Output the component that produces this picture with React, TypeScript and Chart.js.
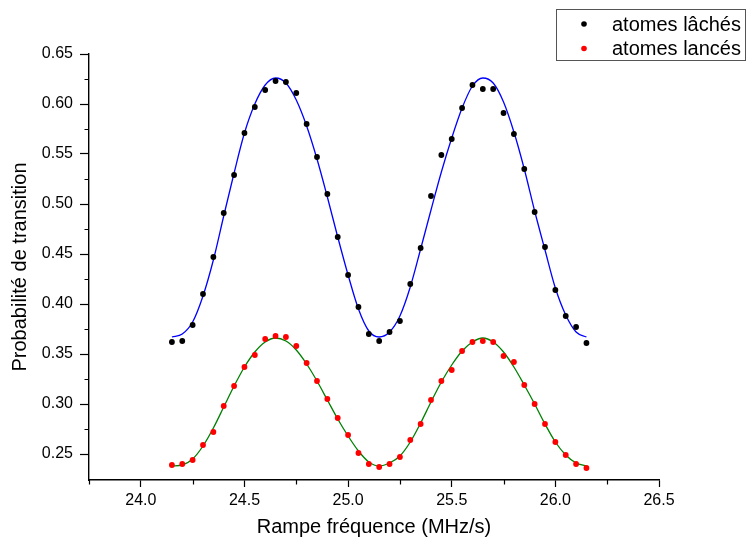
import React, { useEffect, useRef } from 'react';
import { Chart, registerables } from 'chart.js';

Chart.register(...registerables);

const rampe = [
  24.15, 24.2, 24.25, 24.3, 24.35, 24.4, 24.45, 24.5, 24.55, 24.6,
  24.65, 24.7, 24.75, 24.8, 24.85, 24.9, 24.95, 25.0, 25.05, 25.1,
  25.15, 25.2, 25.25, 25.3, 25.35, 25.4, 25.45, 25.5, 25.55, 25.6,
  25.65, 25.7, 25.75, 25.8, 25.85, 25.9, 25.95, 26.0, 26.05, 26.1, 26.15,
];

const atomesLaches = [
  0.362, 0.363, 0.379, 0.410, 0.447, 0.491, 0.529, 0.571, 0.597, 0.614,
  0.623, 0.622, 0.611, 0.580, 0.547, 0.510, 0.467, 0.429, 0.397, 0.370,
  0.363, 0.372, 0.383, 0.420, 0.456, 0.508, 0.549, 0.565, 0.596, 0.619,
  0.615, 0.615, 0.591, 0.570, 0.535, 0.492, 0.457, 0.414, 0.388, 0.377, 0.361,
];

const atomesLances = [
  0.239, 0.240, 0.244, 0.259, 0.272, 0.298, 0.318, 0.337, 0.349, 0.365,
  0.368, 0.367, 0.358, 0.341, 0.323, 0.305, 0.286, 0.269, 0.251, 0.240,
  0.237, 0.240, 0.247, 0.264, 0.280, 0.304, 0.323, 0.334, 0.353, 0.362,
  0.363, 0.362, 0.348, 0.342, 0.319, 0.300, 0.280, 0.262, 0.249, 0.240, 0.236,
];

const ajustLaches = [
  0.367, 0.370, 0.382, 0.408, 0.444, 0.488, 0.531, 0.571, 0.600, 0.619,
  0.626, 0.621, 0.604, 0.578, 0.545, 0.507, 0.467, 0.429, 0.395, 0.373,
  0.367, 0.372, 0.388, 0.417, 0.455, 0.494, 0.532, 0.566, 0.596, 0.618,
  0.626, 0.621, 0.602, 0.572, 0.535, 0.493, 0.454, 0.416, 0.389, 0.372, 0.367,
];

const ajustLances = [
  0.238, 0.239, 0.245, 0.258, 0.276, 0.297, 0.318, 0.337, 0.352, 0.362,
  0.366, 0.363, 0.354, 0.340, 0.323, 0.304, 0.285, 0.268, 0.253, 0.242,
  0.238, 0.241, 0.248, 0.262, 0.281, 0.302, 0.322, 0.339, 0.353, 0.362,
  0.366, 0.362, 0.352, 0.337, 0.319, 0.300, 0.280, 0.262, 0.249, 0.241, 0.238,
];

const xTicks = [24.0, 24.5, 25.0, 25.5, 26.0, 26.5];
const xMinorTicks = [23.75, 24.25, 24.75, 25.25, 25.75, 26.25];
const yTicks = [0.25, 0.3, 0.35, 0.4, 0.45, 0.5, 0.55, 0.6, 0.65];
const yMinorTicks = [0.275, 0.325, 0.375, 0.425, 0.475, 0.525, 0.575, 0.625];

const legendLabels = ['atomes lâchés', 'atomes lancés'];
const xTitle = 'Rampe fréquence (MHz/s)';
const yTitle = 'Probabilité de transition';

const FONT = "'Liberation Sans', Arial, sans-serif";

const pts = (ys: number[]) => rampe.map((x, i) => ({ x, y: ys[i] }));

const extrasPlugin = {
  id: 'extras',
  afterDraw(chart: any) {
    const { ctx, chartArea, scales } = chart;
    const xs = scales.x;
    const ys = scales.y;
    ctx.save();
    ctx.strokeStyle = '#000';
    ctx.lineWidth = 1.2;
    ctx.beginPath();
    xMinorTicks.forEach((v) => {
      const px = Math.round(xs.getPixelForValue(v)) + 0.5;
      ctx.moveTo(px, chartArea.bottom);
      ctx.lineTo(px, chartArea.bottom + 4.5);
    });
    yMinorTicks.forEach((v) => {
      const py = Math.round(ys.getPixelForValue(v)) + 0.5;
      ctx.moveTo(chartArea.left, py);
      ctx.lineTo(chartArea.left - 4.5, py);
    });
    ctx.stroke();

    // legend
    const bx = 556.5, by = 9.5, bw = 189, bh = 51;
    ctx.strokeStyle = '#555';
    ctx.lineWidth = 1;
    ctx.strokeRect(bx, by, bw, bh);
    const colors = [chart.data.datasets[0].backgroundColor, chart.data.datasets[1].backgroundColor];
    ctx.font = `20px ${FONT}`;
    ctx.textBaseline = 'middle';
    ctx.textAlign = 'left';
    legendLabels.forEach((lab, i) => {
      const cy = 24 + i * 24.5;
      ctx.fillStyle = colors[i];
      ctx.beginPath();
      ctx.arc(584, cy, 2.8, 0, Math.PI * 2);
      ctx.fill();
      ctx.fillStyle = '#000';
      ctx.fillText(lab, 612, cy + 1);
    });
    ctx.restore();
  },
};

export default function App() {
  const ref = useRef<HTMLCanvasElement>(null);
  useEffect(() => {
    document.body.style.margin = '0';
    const canvas = ref.current;
    if (!canvas) return;
    Chart.defaults.font.family = FONT;
    Chart.defaults.color = '#000';
    const chart = new Chart(canvas, {
      type: 'scatter',
      data: {
        datasets: [
          {
            label: legendLabels[0],
            data: pts(atomesLaches),
            backgroundColor: '#000000',
            borderColor: '#000000',
            pointRadius: 2.9,
            pointBorderWidth: 0,
            showLine: false,
          },
          {
            label: legendLabels[1],
            data: pts(atomesLances),
            backgroundColor: '#ff0000',
            borderColor: '#ff0000',
            pointRadius: 2.9,
            pointBorderWidth: 0,
            showLine: false,
          },
          {
            label: 'ajustement lâchés',
            data: pts(ajustLaches),
            borderColor: '#0000ff',
            backgroundColor: '#0000ff',
            borderWidth: 1.3,
            pointRadius: 0,
            showLine: true,
            cubicInterpolationMode: 'monotone',
          },
          {
            label: 'ajustement lancés',
            data: pts(ajustLances),
            borderColor: '#008000',
            backgroundColor: '#008000',
            borderWidth: 1.3,
            pointRadius: 0,
            showLine: true,
            cubicInterpolationMode: 'monotone',
          },
        ],
      } as any,
      options: {
        animation: false,
        responsive: false,
        devicePixelRatio: 1,
        layout: { padding: { top: 54, right: 89, left: 0, bottom: 0 } },
        plugins: { legend: { display: false }, tooltip: { enabled: false } },
        scales: {
          x: {
            type: 'linear',
            min: 23.75,
            max: 26.5,
            afterFit: (s: any) => { s.height = 66; },
            afterBuildTicks: (s: any) => { s.ticks = xTicks.map((v) => ({ value: v })); },
            ticks: {
              callback: (v: any) => Number(v).toFixed(1),
              font: { size: 16 },
              padding: 4,
              maxRotation: 0,
              autoSkip: false,
            },
            grid: { drawOnChartArea: false, drawTicks: true, tickLength: 7, color: '#000', tickWidth: 1.2 },
            border: { display: true, color: '#000', width: 1.4 },
            title: { display: true, text: xTitle, font: { size: 20 }, padding: { top: 0, bottom: 7 } },
          },
          y: {
            type: 'linear',
            min: 0.224,
            max: 0.65,
            afterFit: (s: any) => { s.width = 89; },
            afterBuildTicks: (s: any) => { s.ticks = yTicks.map((v) => ({ value: v })); },
            ticks: {
              callback: (v: any) => Number(v).toFixed(2),
              font: { size: 16 },
              padding: 7,
              autoSkip: false,
            },
            grid: { drawOnChartArea: false, drawTicks: true, tickLength: 9, color: '#000', tickWidth: 1.2 },
            border: { display: true, color: '#000', width: 1.4 },
            title: { display: true, text: yTitle, font: { size: 20 }, padding: { top: 8, bottom: 0 } },
          },
        },
      } as any,
      plugins: [extrasPlugin],
    });
    return () => chart.destroy();
  }, []);
  return (
    <div style={{ width: 748, height: 546, background: '#fff' }}>
      <canvas ref={ref} width={748} height={546} style={{ display: 'block' }} />
    </div>
  );
}
